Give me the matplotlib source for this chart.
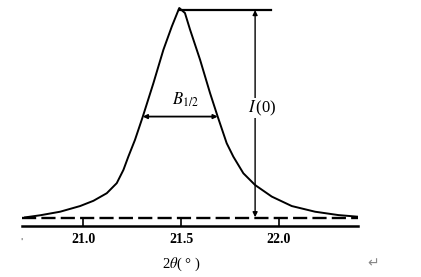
import matplotlib
matplotlib.use("Agg")
import matplotlib.pyplot as plt

# profile (2theta in degrees, intensity with I(0) = 100)
two_theta = [20.704, 20.781, 20.883, 20.985, 21.053, 21.121, 21.172, 21.206,
             21.231, 21.265, 21.305, 21.359, 21.410, 21.453, 21.491,
             21.520, 21.546, 21.597, 21.648, 21.687, 21.733, 21.767,
             21.818, 21.878, 21.963, 22.065, 22.184, 22.303, 22.405]
intensity = [0.3, 1.3, 3.0, 5.7, 8.2, 11.8, 16.6, 22.9,
             29.2, 37.2, 48.3, 64.2, 80.1, 91.2, 100.0,
             97.6, 89.7, 75.4, 59.5, 48.3, 35.6, 29.2,
             21.3, 15.7, 10.2, 5.7, 3.0, 1.4, 0.6]

tick_values = [21.0, 21.5, 22.0]
tick_labels = ["21.0", "21.5", "22.0"]

peak_x = 21.491
peak_top = 99.0
i0_x = 21.878
half_left, half_right = 21.305, 21.687
half_y = 48.3

plt.rcParams["mathtext.fontset"] = "stix"
serif = ["Liberation Serif", "DejaVu Serif"]

fig = plt.figure(figsize=(4.21, 2.77), dpi=100)
ax = fig.add_axes([21.7 / 421, 51 / 277, (358 - 21.7) / 421, 226 / 277])
ax.set_xlim(20.687, 22.403)
ax.set_ylim(-3.8, 103.8)

ax.plot(two_theta, intensity, color="black", lw=1.4, solid_joinstyle="round")
ax.axhline(0, color="black", lw=1.7, linestyle=(0, (6, 2.2)))

# top reference line and I(0) arrow
ax.plot([peak_x, 21.96], [peak_top, peak_top], color="black", lw=1.6)
ax.annotate("", xy=(i0_x, peak_top), xytext=(i0_x, 0.4),
            arrowprops=dict(arrowstyle="<|-|>", color="black", lw=1.0,
                            mutation_scale=7, shrinkA=0, shrinkB=0))
ax.text(i0_x + 0.035, 52.4, r"$I\,$(0)", fontsize=12, ha="center", va="center",
        family=serif,
        bbox=dict(facecolor="white", edgecolor="none", pad=0.5))

# half width arrow
ax.annotate("", xy=(half_left, half_y), xytext=(half_right, half_y),
            arrowprops=dict(arrowstyle="<|-|>", color="black", lw=1.3,
                            mutation_scale=6, shrinkA=0, shrinkB=0))
ax.text(21.52, 56.5, r"$B_{1/2}$", fontsize=12, ha="center", va="center")

for side in ["top", "right", "left"]:
    ax.spines[side].set_visible(False)
ax.spines["bottom"].set_linewidth(1.8)
ax.set_yticks([])
ax.set_xticks(tick_values)
ax.set_xticklabels(tick_labels, family=serif, fontsize=10, fontweight="bold")
ax.tick_params(axis="x", direction="in", length=5, width=1.2, pad=5)

fig.text(181 / 421, 1 - 264 / 277, r"2$\theta$( ° )", ha="center", va="center",
         fontsize=10.5, family=serif)
fig.text(21 / 421, 1 - 242 / 277, "'", ha="center", va="center",
         fontsize=6, color="#444444")
fig.text(373 / 421, 1 - 263 / 277, "\u21b5", ha="center", va="center",
         fontsize=10, color="#888888")

fig.savefig("out.png", dpi=100)
